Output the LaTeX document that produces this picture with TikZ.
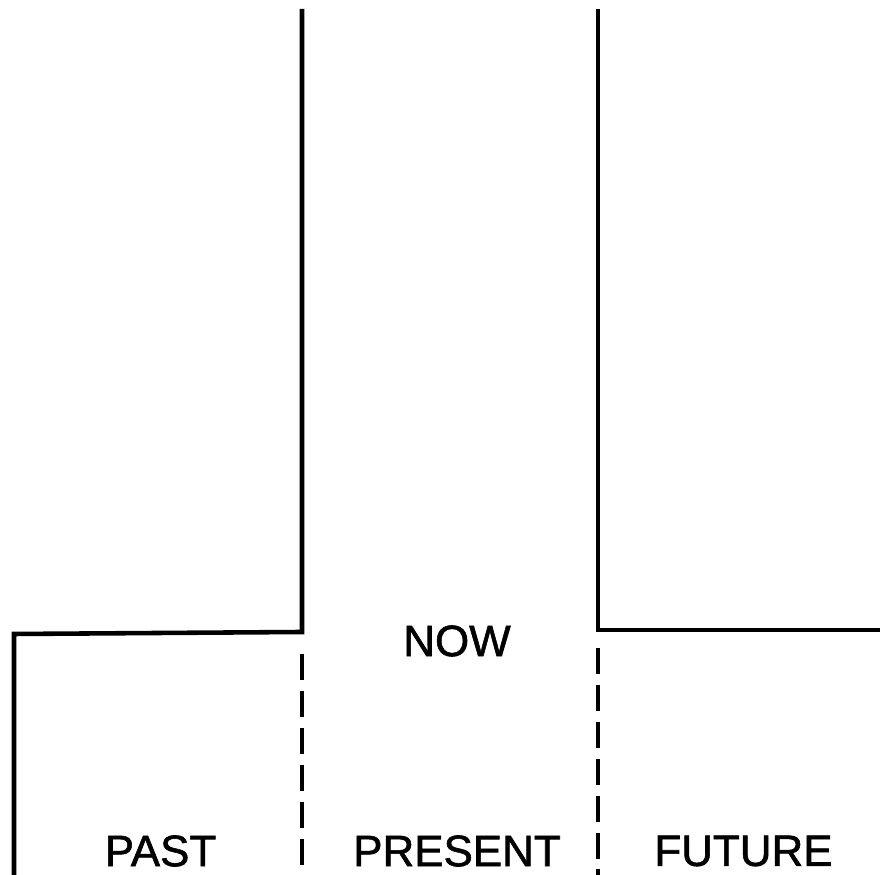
\documentclass[tikz,border=0pt]{standalone}
\usepackage{fontspec}
\setmainfont{Liberation Sans}
\newfontfamily\labelfont[FakeBold=1.3]{Liberation Sans}
\usepackage{tikz}
\usetikzlibrary{positioning, calc}

\begin{document}
\begin{tikzpicture}[
  wall/.style={line width=2.6pt, line join=miter},
  divider/.style={line width=1.9pt, dash pattern=on 15pt off 6pt},
  label/.style={inner sep=0pt, font=\labelfont\fontsize{25}{30}\selectfont}
]
\useasboundingbox (0,0) rectangle (17.6,17.5);

% Outline corners
\coordinate (pastfoot) at (0.28,0);
\coordinate (pastcorner) at (0.28,4.82);
\coordinate (nowleft) at (6.04,4.86);
\coordinate (nowlefttop) at (6.04,17.32);
\coordinate (nowrighttop) at (11.96,17.32);
\coordinate (nowright) at (11.96,4.9);
\coordinate (futureend) at (17.6,4.9);

% Dashed dividers
\coordinate (divlefttop) at (6.04,4.42);
\coordinate (divleftfoot) at (6.04,0);
\coordinate (divrighttop) at (11.96,4.54);
\coordinate (divrightfoot) at (11.96,0);

% Labels
\node[label] (now) at (9.14,4.68) {NOW};
\node[label] (past) at (3.21,0.48) {PAST};
\node[label] (present) at (9.14,0.48) {PRESENT};
\node[label] (future) at (14.87,0.48) {FUTURE};

% Walls
\draw[wall] (pastfoot) -- (pastcorner) -- (nowleft) -- (nowlefttop);
\draw[wall] (nowrighttop) -- (nowright) -- (futureend);

% Dividers
\draw[divider] (divlefttop) -- (divleftfoot);
\draw[divider] (divrighttop) -- (divrightfoot);

\end{tikzpicture}
\end{document}
